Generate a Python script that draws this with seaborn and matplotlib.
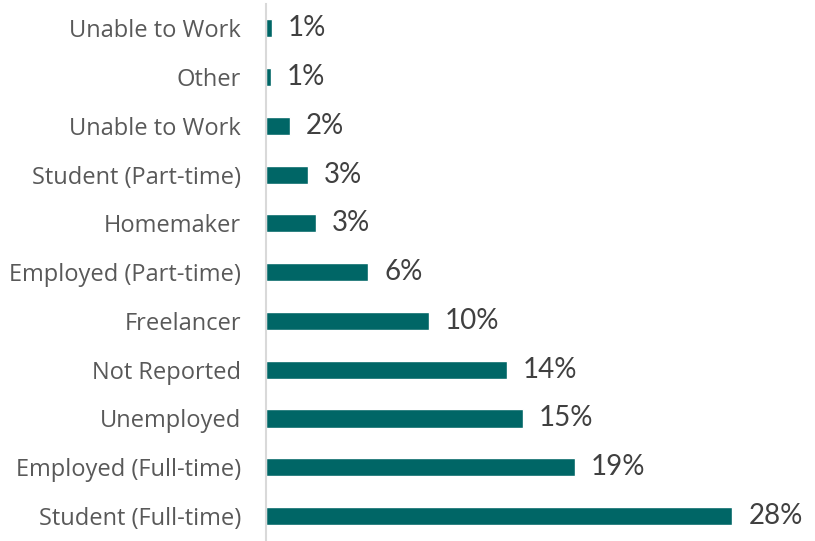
import matplotlib
matplotlib.use("Agg")
import matplotlib.pyplot as plt
import seaborn as sns
import pandas as pd

categories = ["Unable to Work", "Other", "Unable to Work", "Student (Part-time)",
              "Homemaker", "Employed (Part-time)", "Freelancer", "Not Reported",
              "Unemployed", "Employed (Full-time)", "Student (Full-time)"]
values = [0.36, 0.30, 1.45, 2.53, 3.01, 6.14, 9.76, 14.46, 15.42, 18.55, 28.0]
value_labels = ["1%", "1%", "2%", "3%", "3%", "6%", "10%", "14%", "15%", "19%", "28%"]

df = pd.DataFrame({"key": [str(i) for i in range(len(categories))],
                   "category": categories, "value": values})

sns.set_theme(style="white")
fig = plt.figure(figsize=(8.15, 5.41), dpi=100)
ax = fig.add_axes([0.3264, 0.001, 0.653, 0.992])

sns.barplot(data=df, x="value", y="key", orient="h", color="#006666",
            saturation=1, width=0.37, ax=ax)

ax.set_xlim(0, 31.95)
ax.set_yticks(range(len(categories)))
ax.set_yticklabels(categories, fontfamily="Open Sans", fontsize=17,
                   color="#595959")
ax.tick_params(axis="y", length=0, pad=18)
ax.set_xticks([])
ax.set_xlabel("")
ax.set_ylabel("")
for s in ["top", "right", "bottom"]:
    ax.spines[s].set_visible(False)
ax.spines["left"].set_color("#d9d9d9")
ax.spines["left"].set_linewidth(1.5)

ax.bar_label(ax.containers[0], labels=value_labels, padding=11.5,
             fontfamily="Lato", fontsize=20, color="#404040")

fig.savefig("out.png", dpi=100)
